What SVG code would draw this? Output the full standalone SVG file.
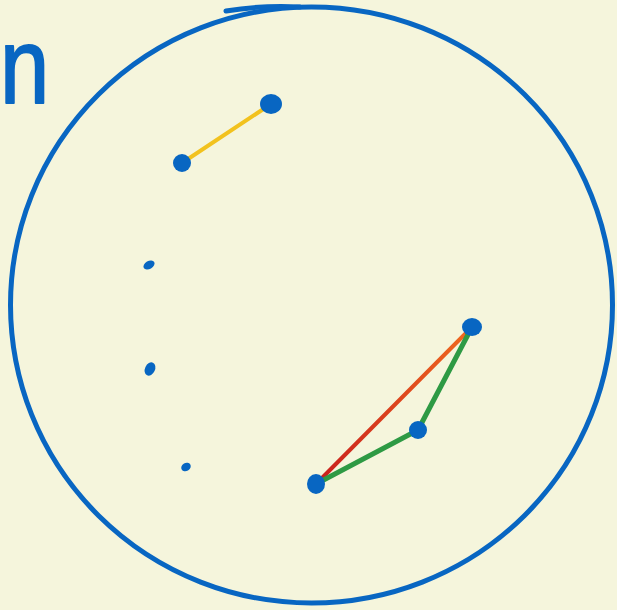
<svg xmlns="http://www.w3.org/2000/svg" width="617" height="610" viewBox="0 0 617 610">
<defs>
<style>
.dot{fill:#0866c2}
.ring{fill:none;stroke:#0866c2;stroke-width:5;stroke-linecap:round}
.edge{fill:none;stroke-linecap:round}
</style>
<linearGradient id="ro" gradientUnits="userSpaceOnUse" x1="316" y1="484" x2="472" y2="327">
<stop offset="0" stop-color="#c81e1e"/>
<stop offset="1" stop-color="#f06a1e"/>
</linearGradient>
</defs>
<rect width="617" height="610" fill="#f5f5dc"/>
<text x="0" y="103" transform="scale(0.82,1)" font-family="Liberation Sans, Arial, sans-serif" font-size="108" fill="#0866c2" stroke="#0866c2" stroke-width="2" stroke-linejoin="round">n</text>
<g id="circle">
<ellipse class="ring" cx="311.5" cy="305" rx="301" ry="298"/>
<path class="ring" d="M226,11 Q262,5 300,7" stroke-width="6"/>
</g>
<g id="connectors">
<line class="edge" x1="182" y1="163" x2="271" y2="104" stroke="#f2c21e" stroke-width="4"/>
<line class="edge" x1="316" y1="484" x2="472" y2="327" stroke="url(#ro)" stroke-width="4"/>
<line class="edge" x1="316" y1="484" x2="418" y2="430" stroke="#2e9a44" stroke-width="5"/>
<line class="edge" x1="418" y1="430" x2="472" y2="327" stroke="#2e9a44" stroke-width="5"/>
</g>
<g id="n1"><ellipse class="dot" cx="271" cy="104" rx="11" ry="10"/></g>
<g id="n2"><ellipse class="dot" cx="182" cy="163" rx="9" ry="9"/></g>
<g id="n3"><ellipse class="dot" cx="149" cy="265" rx="6" ry="4" transform="rotate(-30 149 265)"/></g>
<g id="n4"><ellipse class="dot" cx="150" cy="369" rx="5" ry="7" transform="rotate(25 150 369)"/></g>
<g id="n5"><ellipse class="dot" cx="186" cy="467" rx="5" ry="4" transform="rotate(-30 186 467)"/></g>
<g id="n6"><ellipse class="dot" cx="472" cy="327" rx="10" ry="9"/></g>
<g id="n7"><ellipse class="dot" cx="418" cy="430" rx="9" ry="9"/></g>
<g id="n8"><ellipse class="dot" cx="316" cy="484" rx="9" ry="10"/></g>
</svg>
